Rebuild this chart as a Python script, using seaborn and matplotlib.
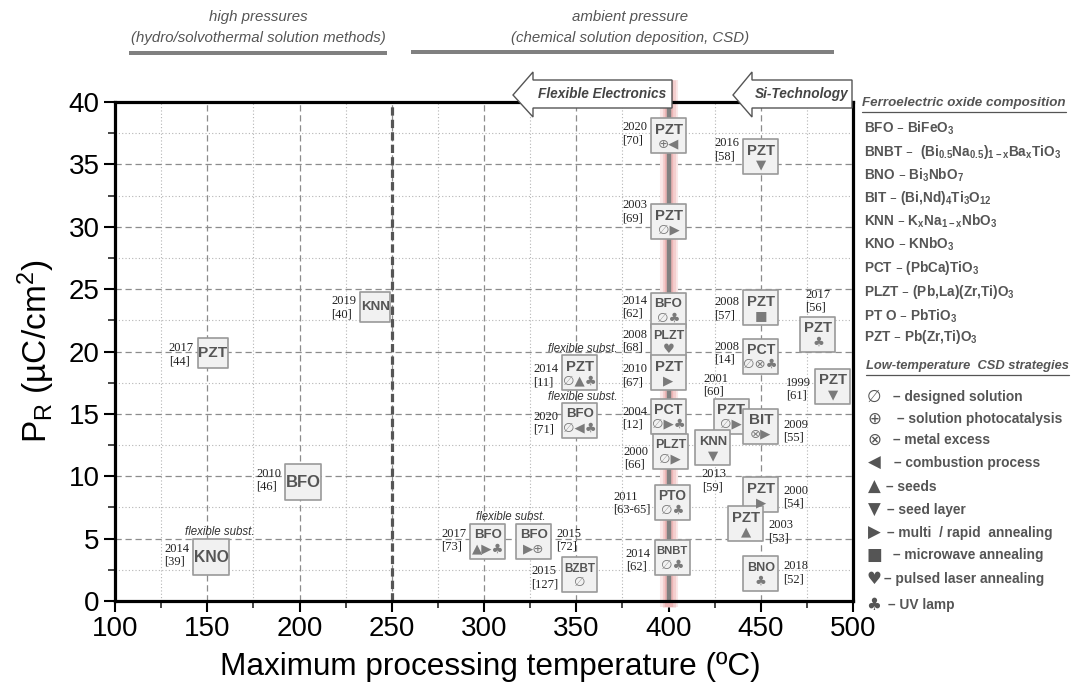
import numpy as np
import pandas as pd
import matplotlib
matplotlib.use("Agg")
import matplotlib.pyplot as plt
from matplotlib import font_manager
from matplotlib.patches import Polygon
from matplotlib.lines import Line2D
from matplotlib.ticker import MultipleLocator
import seaborn as sns

# ---------------- data ----------------
materials = ["PZT", "PZT", "PZT", "KNN", "PZT", "BFO", "KNO", "BFO", "BFO", "BZBT",
             "BNBT", "PTO", "PZT", "PZT", "BNO", "BFO", "PLZT", "PZT", "PCT", "PLZT",
             "PZT", "BFO", "PZT", "PZT", "PCT", "PZT", "PZT", "BIT", "KNN"]
max_temp_C = [400, 450, 400, 241, 153, 202, 152, 302, 327, 352,
              402, 402, 450, 442, 450, 400, 400, 400, 400, 401,
              352, 352, 450, 481, 450, 489, 434, 450, 424]
remanent_pol = [37.3, 35.6, 30.4, 23.6, 19.9, 9.5, 3.5, 4.8, 4.8, 2.1,
                3.5, 7.9, 8.5, 6.2, 2.2, 23.3, 20.8, 18.3, 14.8, 12.0,
                18.3, 14.5, 23.5, 21.4, 19.6, 17.2, 14.8, 14.0, 12.3]
years = [2020, 2016, 2003, 2019, 2017, 2010, 2014, 2017, 2015, 2015,
         2014, 2011, 2000, 2003, 2018, 2014, 2008, 2010, 2004, 2000,
         2014, 2020, 2008, 2017, 2008, 1999, 2001, 2009, 2013]
refs = ["70", "58", "69", "40", "44", "46", "39", "73", "72", "127",
        "62", "63-65", "54", "53", "52", "62", "68", "67", "12", "66",
        "11", "71", "57", "56", "14", "61", "60", "55", "59"]
strategies = ["⊕◀", "▼", "∅▶", "", "", "", "", "▲▶♣", "▶⊕", "∅",
              "∅♣", "∅♣", "▶", "▲", "♣", "∅♣", "♥", "▶", "∅▶♣", "∅▶",
              "∅▲♣", "∅◀♣", "■", "♣", "∅⊗♣", "▼", "∅▶", "⊗▶", "▼"]
flexible_substrate = [False, False, False, False, False, False, True, True, True, False,
                      False, False, False, False, False, False, False, False, False, False,
                      True, True, False, False, False, False, False, False, False]

x_ticks = [100, 150, 200, 250, 300, 350, 400, 450, 500]
y_ticks = [0, 5, 10, 15, 20, 25, 30, 35, 40]
HIGH_PRESSURE_LIMIT_C = 250
FLEXIBLE_LIMIT_C = 400

header_left = ["high pressures", "(hydro/solvothermal solution methods)"]
header_right = ["ambient pressure", "(chemical solution deposition, CSD)"]
arrow_labels = ["Flexible Electronics", "Si-Technology"]

composition_title = "Ferroelectric oxide composition"
composition_legend = [
    r"BFO – BiFeO$_3$",
    r"BNBT –  (Bi$_{0.5}$Na$_{0.5}$)$_{1 - x}$Ba$_x$TiO$_3$",
    r"BNO – Bi$_3$NbO$_7$",
    r"BIT – (Bi,Nd)$_4$Ti$_3$O$_{12}$",
    r"KNN – K$_x$Na$_{1-x}$NbO$_3$",
    r"KNO – KNbO$_3$",
    r"PCT – (PbCa)TiO$_3$",
    r"PLZT – (Pb,La)(Zr,Ti)O$_3$",
    r"PT O – PbTiO$_3$",
    r"PZT – Pb(Zr,Ti)O$_3$",
]
strategy_title = "Low-temperature  CSD strategies"
strategy_symbols = ["∅", "⊕", "⊗", "◀", "▲", "▼", "▶", "■", "♥", "♣"]
strategy_names = ["designed solution", "solution photocatalysis", "metal excess",
                  "combustion process", "seeds", "seed layer",
                  "multi  / rapid  annealing", "microwave annealing",
                  "pulsed laser annealing", "UV lamp"]

# ---------------- style ----------------
W, H = 1072, 689
PT = 0.72  # points per pixel (100 dpi)

sns.set_theme(style="ticks")
names = {f.name for f in font_manager.fontManager.ttflist}
SANS = "Liberation Sans" if "Liberation Sans" in names else "DejaVu Sans"
NARROW = "Liberation Sans Narrow" if "Liberation Sans Narrow" in names else SANS
SERIF = "Liberation Serif" if "Liberation Serif" in names else "DejaVu Serif"
plt.rcParams["font.family"] = [SANS, "DejaVu Sans"]
plt.rcParams["mathtext.default"] = "regular"

BOX_KIND = ["std"] * len(materials)
BOX_KIND[3] = BOX_KIND[4] = "small"
BOX_KIND[5] = BOX_KIND[6] = "big"
BOX_SIDE_PX = {"std": 35, "small": 30, "big": 36}

LABEL_SIDE = ["L", "L", "L", "L", "L", "L", "L", "L", "R", "L",
              "L", "L", "R", "R", "R", "L", "L", "L", "L", "L",
              "L", "L", "L", "T", "L", "L", "TL", "R", "B"]
LABEL_DY = [-2, -7, -10, 1, 2, -2, -2, -1, -1, 3,
            3, 1, 2, 8, -1, -3, 0, 3, 2, 7,
            3, 3, 1, 0, -3, 3, 0, 5, 0]
FLEX_LABEL_OFFSET = {6: (9, -25), 7: (23, -24), 20: (3, -24), 21: (3, -23)}
STRAT_DASH_X = [893, 897, 893, 894, 886, 887, 887, 893, 884, 888]

fig = plt.figure(figsize=(W / 100, H / 100), dpi=100)
fig.patch.set_facecolor("white")
X0, X1, Y0, Y1 = 115, 853, 102, 601
ax = fig.add_axes([X0 / W, 1 - Y1 / H, (X1 - X0) / W, (Y1 - Y0) / H])
ax.set_facecolor("white")
renderer = fig.canvas.get_renderer()


def fit_width(t, px, cap=None):
    bb = t.get_window_extent(renderer)
    fs = t.get_fontsize() * px / bb.width
    if cap is not None:
        fs = min(fs, cap)
    t.set_fontsize(fs)
    return fs


def fxy(px, py):
    return px / W, 1 - py / H


# ---------------- axes ----------------
ax.set_xlim(x_ticks[0], x_ticks[-1])
ax.set_ylim(y_ticks[0], y_ticks[-1])
ax.set_xticks(x_ticks)
ax.set_yticks(y_ticks)
ax.xaxis.set_minor_locator(MultipleLocator(25))
ax.yaxis.set_minor_locator(MultipleLocator(2.5))
ax.set_axisbelow(True)
ax.grid(which="major", ls=(0, (5, 3)), color="#8c8c8c", lw=0.9)
ax.grid(which="minor", ls=(0, (1, 2)), color="#b5b5b5", lw=0.8)
ax.tick_params(which="major", length=8, width=1.5, direction="out", labelsize=20,
               colors="black", top=False, right=False, pad=3)
ax.tick_params(which="minor", length=5, width=1.2, direction="out", top=False, right=False)
for sp in ax.spines.values():
    sp.set_linewidth(2.3)
    sp.set_color("black")

# reference lines
ax.axvline(HIGH_PRESSURE_LIMIT_C, color="#555555", lw=2.3, ls=(0, (2.6, 1.3)), zorder=2)
for lw, col in [(13, "#fae8e8"), (9.5, "#f4cfcf"), (6, "#ecb4b4")]:
    ax.axvline(FLEXIBLE_LIMIT_C, ymin=-0.012, ymax=1.044, color=col, lw=lw, zorder=1.5,
               clip_on=False, solid_capstyle="butt")
ax.axvline(FLEXIBLE_LIMIT_C, color="#808080", lw=3.2, zorder=2, solid_capstyle="butt")

# boxes
df = pd.DataFrame({"T": max_temp_C, "PR": remanent_pol, "box": BOX_KIND})
sizes = {k: (v * PT) ** 2 for k, v in BOX_SIDE_PX.items()}
sns.scatterplot(data=df, x="T", y="PR", size="box", sizes=sizes, marker="s",
                color="#f1f1f1", edgecolor="#999999", linewidth=1.2, legend=False,
                ax=ax, zorder=3)

for i, (x, y) in enumerate(zip(max_temp_C, remanent_pol)):
    name = materials[i]
    sym = strategies[i]
    half = BOX_SIDE_PX[BOX_KIND[i]] / 2
    if sym:
        t = ax.annotate(name, (x, y), xytext=(0, 6 * PT), textcoords="offset points",
                        ha="center", va="center", fontsize=11, fontweight="bold",
                        color="#555555", family=[NARROW, "DejaVu Sans"], zorder=5)
        fit_width(t, 31 if len(name) >= 4 else 28, cap=11)
        ax.annotate(sym, (x, y), xytext=(0, -8 * PT), textcoords="offset points",
                    ha="center", va="center", fontsize=9.5, color="#7a7a7a",
                    family="DejaVu Sans", zorder=5)
    else:
        t = ax.annotate(name, (x, y), xytext=(0, 0), textcoords="offset points",
                        ha="center", va="center", fontsize=12, fontweight="bold",
                        color="#555555", family=[NARROW, "DejaVu Sans"], zorder=5)
        fit_width(t, 2 * half - 1, cap=12)
    side = LABEL_SIDE[i]
    dy = LABEL_DY[i]
    if side == "L":
        dx, ha = -(half + 4), "right"
    elif side == "R":
        dx, ha = half + 5, "left"
    elif side == "T":
        dx, ha, dy = 0, "center", -33
    elif side == "TL":
        dx, ha, dy = -28, "left", -31
    else:
        dx, ha, dy = -11, "left", 33
    ax.annotate(f"{years[i]}\n[{refs[i]}]", (x, y), xytext=(dx * PT, -dy * PT),
                textcoords="offset points", ha=ha, va="center", ma="left",
                fontsize=9, color="#222222", family=SERIF, linespacing=1.1, zorder=5)
    if i in FLEX_LABEL_OFFSET:
        ox, oy = FLEX_LABEL_OFFSET[i]
        t = ax.annotate("flexible subst.", (x, y), xytext=(ox * PT, -oy * PT),
                        textcoords="offset points", ha="center", va="center",
                        fontsize=9.5, style="italic", color="#333333",
                        family=[NARROW, "DejaVu Sans"], zorder=5)
        fit_width(t, 70)

# axis labels
ax.set_xlabel("Maximum processing temperature (ºC)", fontsize=20, color="black")
ax.set_ylabel("P$_R$ (µC/cm$^2$)", fontsize=24, color="black")
ax.xaxis.set_label_coords((490 - X0) / (X1 - X0), (Y1 - 652) / (Y1 - Y0))
ax.yaxis.set_label_coords((57 - X0) / (X1 - X0), 0.5)
fit_width(ax.xaxis.label, 540)

# ---------------- header ----------------
hdr = []
for lines, cx in [(header_left, 258), (header_right, 630)]:
    for line, py in zip(lines, [17, 38]):
        t = fig.text(*fxy(cx, py), line, ha="center", va="center", style="italic",
                     color="#555555", fontsize=11, family=[NARROW, "DejaVu Sans"])
        hdr.append(t)
hs = fit_width(hdr[1], 254)
for t in hdr:
    t.set_fontsize(hs)
for xa, xb, py in [(129, 387, 53), (411, 834, 52)]:
    fig.add_artist(Line2D([xa / W, xb / W], [1 - py / H] * 2, color="#808080",
                          lw=4 * PT, solid_capstyle="butt"))

# arrows
arrow_geo = [(513, 533, 672), (733, 752, 852)]
for (tip, base, right), lab in zip(arrow_geo, arrow_labels):
    pts = [(tip, 95), (base, 72), (base, 80), (right, 80), (right, 108),
           (base, 108), (base, 117)]
    poly = Polygon([fxy(*p) for p in pts], closed=True, facecolor="white",
                   edgecolor="#555555", lw=1.0, transform=fig.transFigure, zorder=10)
    fig.add_artist(poly)
arrow_texts = []
for (tip, base, right), lab in zip(arrow_geo, arrow_labels):
    t = fig.text(*fxy((base + right) / 2, 94), lab, ha="center", va="center",
                 style="italic", fontweight="bold", color="#444444", fontsize=10,
                 family=[NARROW, "DejaVu Sans"], zorder=11)
    arrow_texts.append(t)
asz = fit_width(arrow_texts[0], 128)
arrow_texts[1].set_fontsize(asz)

# ---------------- right-hand legends ----------------
LX = 864
t = fig.text(*fxy(862, 103), composition_title, ha="left", va="center", style="italic",
             fontweight="bold", color="#555555", fontsize=10, family=[NARROW, "DejaVu Sans"])
fit_width(t, 204)
fig.add_artist(Line2D([862 / W, 1066 / W], [1 - 112 / H] * 2, color="#555555", lw=0.9))
comp_y = [128, 152, 175, 198, 221, 244, 268, 292, 316, 337]
comp_txt = []
for s, py in zip(composition_legend, comp_y):
    comp_txt.append(fig.text(*fxy(LX, py), s, ha="left", va="center", fontweight="bold",
                             color="#555555", fontsize=9.5, family=[NARROW, "DejaVu Sans"]))
cs = fit_width(comp_txt[1], 198)
for t in comp_txt:
    t.set_fontsize(cs)

t = fig.text(*fxy(866, 366), strategy_title, ha="left", va="center", style="italic",
             fontweight="bold", color="#555555", fontsize=10, family=[NARROW, "DejaVu Sans"])
fit_width(t, 203)
fig.add_artist(Line2D([866 / W, 1069 / W], [1 - 375 / H] * 2, color="#555555", lw=0.9))
strat_y = [397, 419, 440, 463, 487, 510, 533, 555, 579, 605]
strat_txt = []
for sym, nm, py, dxp in zip(strategy_symbols, strategy_names, strat_y, STRAT_DASH_X):
    fig.text(*fxy(874, py), sym, ha="center", va="center", color="#555555",
             fontsize=12, family="DejaVu Sans")
    strat_txt.append(fig.text(*fxy(dxp, py), "– " + nm, ha="left", va="center",
                              fontweight="bold", color="#555555", fontsize=10,
                              family=[NARROW, "DejaVu Sans"]))
ss = fit_width(strat_txt[6], 1052 - STRAT_DASH_X[6])
for t in strat_txt:
    t.set_fontsize(ss)

fig.savefig("out.png", dpi=100, facecolor="white")
